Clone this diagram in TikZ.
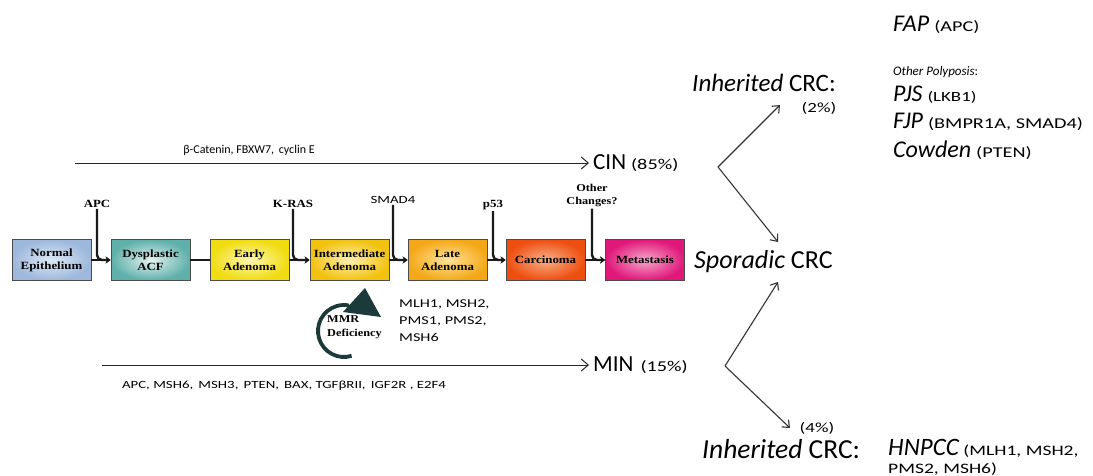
\documentclass[tikz,border=0pt]{standalone}
\usepackage{fontspec}
\setmainfont{Carlito}
\newfontfamily\wsans{Carlito}[FakeStretch=1.35]
\newfontfamily\boxfont{Liberation Serif}[FakeStretch=1.17]
\usetikzlibrary{arrows.meta}
\definecolor{mmrcol}{HTML}{1D3A3B}
\begin{document}
\begin{tikzpicture}[x=1pt,y=1pt,
  stage/.style={draw=black!70, line width=0.8pt, minimum width=79pt, minimum height=41pt,
    inner sep=1pt, align=center, font=\boxfont\bfseries\fontsize{11}{13}\selectfont},
  link/.style={line width=2.4pt, draw=black!90, -{Stealth[length=5pt,width=7pt]}},
  plainlink/.style={line width=2.4pt, draw=black!90},
  feed/.style={line width=2.4pt, draw=black!90, rounded corners=5pt, -{Stealth[length=5pt,width=7pt]}},
  lab/.style={font=\boxfont\bfseries\fontsize{11}{13}\selectfont, inner sep=1pt, align=center},
  thinarrow/.style={line width=1pt, draw=black!85, shorten >=4pt, -{Straight Barb[length=7pt,width=12pt]}},
  vline/.style={line width=1.1pt, draw=black!80, -{Straight Barb[length=6pt,width=10pt]}},
  txt/.style={inner sep=0pt, anchor=west},
]
\useasboundingbox (0,0) rectangle (1093,475);

% stage boxes
\node[stage, inner color={rgb,255:red,221;green,232;blue,244}, outer color={rgb,255:red,157;green,184;blue,220}] (b1) at (51.5,215) {Normal\\Epithelium};
\node[stage, inner color={rgb,255:red,228;green,242;blue,240}, outer color={rgb,255:red,95;green,176;blue,170}] (b2) at (150.5,215) {Dysplastic\\ACF};
\node[stage, inner color={rgb,255:red,255;green,247;blue,176}, outer color={rgb,255:red,240;green,220;blue,16}] (b3) at (249.5,215) {Early\\Adenoma};
\node[stage, inner color={rgb,255:red,255;green,240;blue,176}, outer color={rgb,255:red,242;green,194;blue,16}] (b4) at (349.5,215) {Intermediate\\Adenoma};
\node[stage, inner color={rgb,255:red,255;green,227;blue,154}, outer color={rgb,255:red,244;green,168;blue,24}] (b5) at (447.5,215) {Late\\Adenoma};
\node[stage, inner color={rgb,255:red,248;green,176;blue,136}, outer color={rgb,255:red,238;green,78;blue,16}] (b6) at (545.5,215) {Carcinoma};
\node[stage, inner color={rgb,255:red,247;green,168;blue,204}, outer color={rgb,255:red,224;green,24;blue,122}] (b7) at (645,215) {Metastasis};

% gene labels above
\node[lab] (apc) at (97,271) {APC};
\node[lab] (kras) at (293,271) {K-RAS};
\node[inner sep=1pt, font=\wsans\fontsize{11}{12}\selectfont] (smad) at (393,275) {SMAD4};
\node[lab] (p53) at (493,270) {p53};
\node[lab, font=\boxfont\bfseries\fontsize{10.5}{13}\selectfont] (other) at (592,279) {Other\\Changes?};

% connectors between boxes
\draw[link] (b1) -- (b2);
\draw[plainlink] (b2) -- (b3);
\draw[link] (b3) -- (b4);
\draw[link] (b4) -- (b5);
\draw[link] (b5) -- (b6);
\draw[link] (b6) -- (b7);
\draw[feed] (apc.south) |- (b2.west);
\draw[feed] (kras.south) |- (b4.west);
\draw[feed] (smad.south) |- (b5.west);
\draw[feed] (p53.south) |- (b6.west);
\draw[feed] (other.south) |- (b7.west);

% CIN pathway
\coordinate (cinstart) at (75,312);
\node[txt] (cin) at (593,312) {\fontsize{23}{27}\selectfont CIN\hspace{5pt}{\wsans\fontsize{15}{18}\selectfont(85\%)}};
\draw[thinarrow] (cinstart) -- (cin.west);
\node[inner sep=0pt, font=\fontsize{12}{14}\selectfont] (cinlab) at (249,325) {β-Catenin, FBXW7,\, cyclin E};

% MIN pathway
\coordinate (minstart) at (102,110);
\node[txt] (min) at (593,110) {\fontsize{23}{27}\selectfont MIN\hspace{7pt}{\wsans\fontsize{15}{18}\selectfont(15\%)}};
\draw[thinarrow] (minstart) -- (min.west);
\node[inner sep=0pt, font=\wsans\fontsize{11}{13}\selectfont] (minlab) at (284,89) {APC, MSH6,\, MSH3,\, PTEN,\, BAX, TGFβRII,\, IGF2R , E2F4};

% MMR deficiency
\coordinate (mmrc) at (344,144);
\draw[line width=3.8pt, draw=mmrcol] (mmrc) ++(-73:26) arc[start angle=-73, end angle=-281, radius=26];
\fill[mmrcol] (343,163) -- (365,187) -- (381,158) -- cycle;
\node[lab, anchor=west, align=left, font=\boxfont\bfseries\fontsize{10.5}{14}\selectfont, inner sep=0pt] (mmr) at (327,148) {MMR\\Deficiency};
\node[txt, anchor=north west, align=left, font=\wsans\fontsize{12}{17}\selectfont] (mmrgenes) at (399,175) {MLH1, MSH2,\\PMS1, PMS2,\\MSH6};

% right side outcomes
\node[txt] (spor) at (694,213) {\fontsize{26}{30}\selectfont\textit{Sporadic} CRC};
\node[txt] (inh1) at (692,392) {\fontsize{25}{29}\selectfont\textit{Inherited} CRC:};
\node[inner sep=0pt, font=\wsans\fontsize{14}{16}\selectfont] (p2) at (819,367) {(2\%)};
\node[txt] (inh2) at (702,26) {\fontsize{27.5}{31}\selectfont\textit{Inherited} CRC:};
\node[inner sep=0pt, font=\wsans\fontsize{14}{16}\selectfont] (p4) at (817,47) {(4\%)};

\coordinate (v1) at (718,308);
\coordinate (t1) at (780,370);
\coordinate (t2) at (778,233);
\draw[vline] (v1) -- (t1);
\draw[vline] (v1) -- (t2);
\coordinate (v2) at (725,109);
\coordinate (t3) at (778,193);
\coordinate (t4) at (790,47);
\draw[vline] (v2) -- (t3);
\draw[vline] (v2) -- (t4);

% syndromes
\node[txt] (fap) at (893,450) {\fontsize{24}{28}\selectfont\textit{FAP}\hspace{5pt}{\wsans\fontsize{15}{18}\selectfont(APC)}};
\node[txt] (poly) at (893,403) {\fontsize{13}{15}\selectfont\textit{Other Polyposis}:};
\node[txt] (pjs) at (893,380) {\fontsize{24}{28}\selectfont\textit{PJS}\hspace{5pt}{\wsans\fontsize{14}{17}\selectfont(LKB1)}};
\node[txt] (fjp) at (893,353) {\fontsize{24}{28}\selectfont\textit{FJP}\hspace{5pt}{\wsans\fontsize{15}{18}\selectfont(BMPR1A, SMAD4)}};
\node[txt] (cow) at (893,325) {\fontsize{24}{28}\selectfont\textit{Cowden}\hspace{5pt}{\wsans\fontsize{15}{18}\selectfont(PTEN)}};
\node[txt] (hn1) at (888,27) {\fontsize{25}{29}\selectfont\textit{HNPCC}\hspace{4pt}{\wsans\fontsize{14.5}{17}\selectfont(MLH1, MSH2,}};
\node[txt] (hn2) at (888,6) {\wsans\fontsize{14.5}{17}\selectfont PMS2, MSH6)};
\end{tikzpicture}
\end{document}
